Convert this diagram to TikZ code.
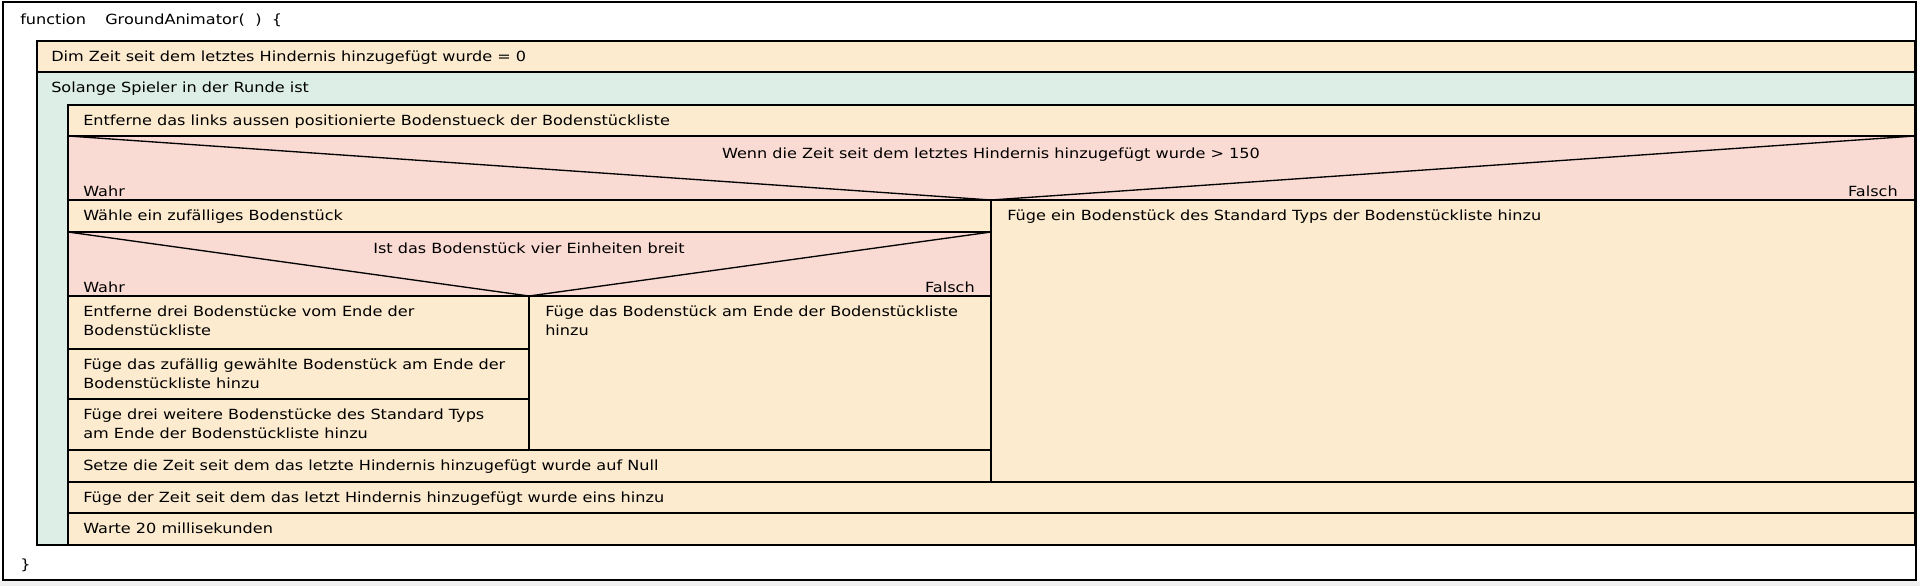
\documentclass[tikz,border=0pt]{standalone}
\usepackage{fontspec}
\setmainfont{DejaVu Sans}[FakeStretch=1.15]
\definecolor{actfill}{RGB}{253,235,207}
\definecolor{loopfill}{RGB}{220,238,229}
\definecolor{condfill}{RGB}{250,219,211}
\tikzset{
  actbox/.style={draw=black, fill=actfill, line width=1pt},
  loopbox/.style={draw=black, fill=loopfill, line width=1pt},
  condbox/.style={draw=black, fill=condfill, line width=1pt},
  txt/.style={inner sep=0pt, anchor=base west, align=left,
    font=\fontsize{10.5}{13.8}\selectfont},
}
\begin{document}
\begin{tikzpicture}[x=0.75pt, y=-0.75pt]
  \useasboundingbox (0,0) rectangle (1920,586);
  \fill[white] (0,0) rectangle (1920,586);
  \fill[black!6] (0,581) rectangle (1920,586);
  \draw[line width=1pt] (3,2) rectangle (1916,580);
  \node[txt] (fn) at (20,24) {function};
  \node[txt] (name) at (105,24) {GroundAnimator(\hspace{4pt} )\hspace{4pt} \{};
  % declaration and loop
  \draw[actbox] (37,41) rectangle (1915,72);
  \node[txt] (dim) at (51,61.5) {Dim Zeit seit dem letztes Hindernis hinzugefügt wurde = 0};
  \draw[loopbox] (37,72) rectangle (1915,545);
  \node[txt] (solange) at (51,92.5) {Solange Spieler in der Runde ist};
  \draw[actbox] (68,105) rectangle (1915,136);
  \node[txt] (entferne) at (83,125.5) {Entferne das links aussen positionierte Bodenstueck der Bodenstückliste};
  % first condition
  \draw[condbox] (68,136) rectangle (1915,200);
  \draw[line width=1pt] (68,136) -- (991,200) -- (1915,136);
  \node[txt, anchor=base] (wenn) at (991,158) {Wenn die Zeit seit dem letztes Hindernis hinzugefügt wurde > 150};
  \node[txt] (wahrA) at (83,196) {Wahr};
  \node[txt, anchor=base east] (falschA) at (1898,196) {Falsch};
  \draw[actbox] (991,200) rectangle (1915,482);
  \node[txt] (standard) at (1007,220.5) {Füge ein Bodenstück des Standard Typs der Bodenstückliste hinzu};
  \draw[actbox] (68,200) rectangle (991,232);
  \node[txt] (waehle) at (83,220.5) {Wähle ein zufälliges Bodenstück};
  % second condition
  \draw[condbox] (68,232) rectangle (991,296);
  \draw[line width=1pt] (68,232) -- (529,296) -- (991,232);
  \node[txt, anchor=base] (ist) at (529,253) {Ist das Bodenstück vier Einheiten breit};
  \node[txt] (wahrB) at (83,292) {Wahr};
  \node[txt, anchor=base east] (falschB) at (975,292) {Falsch};
  % two-line texts: base is the last line
  \draw[actbox] (68,296) rectangle (529,349);
  \node[txt] (drei) at (83,335) {Entferne drei Bodenstücke vom Ende der\\Bodenstückliste};
  \draw[actbox] (68,349) rectangle (529,399);
  \node[txt] (zufall) at (83,388) {Füge das zufällig gewählte Bodenstück am Ende der\\Bodenstückliste hinzu};
  \draw[actbox] (68,399) rectangle (529,450);
  \node[txt] (weitere) at (83,438) {Füge drei weitere Bodenstücke des Standard Typs\\am Ende der Bodenstückliste hinzu};
  \draw[actbox] (529,296) rectangle (991,450);
  \node[txt] (amende) at (545,335) {Füge das Bodenstück am Ende der Bodenstückliste\\hinzu};
  \draw[actbox] (68,450) rectangle (991,482);
  \node[txt] (setze) at (83,470.5) {Setze die Zeit seit dem das letzte Hindernis hinzugefügt wurde auf Null};
  % end of loop body
  \draw[actbox] (68,482) rectangle (1915,513);
  \node[txt] (fuegeder) at (83,502) {Füge der Zeit seit dem das letzt Hindernis hinzugefügt wurde eins hinzu};
  \draw[actbox] (68,513) rectangle (1915,545);
  \node[txt] (warte) at (83,533.5) {Warte 20 millisekunden};
  \node[txt] (close) at (20,569) {\}};
\end{tikzpicture}
\end{document}
